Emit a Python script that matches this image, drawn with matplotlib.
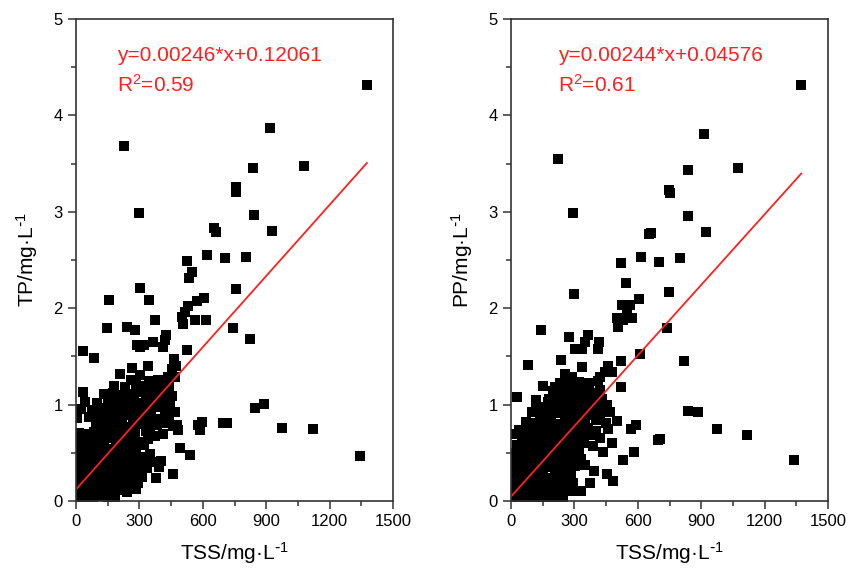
import matplotlib
matplotlib.use("Agg")
import matplotlib.pyplot as plt
from matplotlib.ticker import MultipleLocator

plt.rcParams['font.family'] = ['Liberation Sans', 'DejaVu Sans']
plt.rcParams['mathtext.default'] = 'regular'

# ---- left panel: TSS vs TP (sparse points) ----
tp_sparse = [
    (1376, 4.32), (918, 3.87), (229, 3.68), (839, 3.45), (1081, 3.47), (756, 3.26),
    (757, 3.21), (298, 2.99), (843, 2.97), (929, 2.80), (653, 2.83), (661, 2.79),
    (524, 2.49), (618, 2.55), (705, 2.52), (805, 2.53), (550, 2.38), (535, 2.31),
    (303, 2.21), (756, 2.20), (158, 2.08), (347, 2.09), (607, 2.11), (571, 2.07),
    (531, 2.02), (516, 1.96), (500, 1.91), (508, 1.84), (563, 1.88), (614, 1.88),
    (374, 1.88), (145, 1.79), (240, 1.81), (279, 1.77), (742, 1.79), (824, 1.68),
    (425, 1.72), (421, 1.67), (413, 1.60), (363, 1.65), (287, 1.62), (303, 1.60),
    (320, 1.62), (527, 1.57), (35, 1.56), (85, 1.48), (464, 1.47), (473, 1.40),
    (342, 1.40), (264, 1.38), (208, 1.32), (304, 1.31), (437, 1.29), (407, 1.26),
    (454, 1.37), (470, 1.29), (35, 1.13), (155, 1.07), (469, 0.92), (477, 0.79),
    (484, 0.74), (579, 0.79), (595, 0.82), (587, 0.74), (697, 0.81), (713, 0.81),
    (847, 0.96), (888, 1.01), (976, 0.76), (1123, 0.75), (1344, 0.47), (492, 0.55),
    (538, 0.48), (394, 0.35), (379, 0.24), (458, 0.28), (350, 0.68), (374, 0.67),
]
# dense cluster near the origin
tp_dense = [
    (5, 0.02), (40, 0.04), (78, 0.03), (112, 0.05), (150, 0.02), (186, 0.04),
    (12, 0.10), (46, 0.11), (82, 0.09), (120, 0.12), (160, 0.10), (202, 0.11), (242, 0.09), (286, 0.12),
    (2, 0.18), (30, 0.17), (66, 0.19), (100, 0.18), (140, 0.16), (176, 0.19), (215, 0.18), (252, 0.17), (292, 0.19),
    (16, 0.26), (52, 0.25), (90, 0.27), (126, 0.25), (166, 0.26), (206, 0.27), (240, 0.25), (280, 0.26), (312, 0.25),
    (6, 0.33), (40, 0.34), (76, 0.32), (112, 0.33), (150, 0.35), (190, 0.32), (230, 0.34), (266, 0.33), (302, 0.31), (336, 0.34),
    (20, 0.41), (56, 0.40), (94, 0.42), (132, 0.41), (170, 0.39), (210, 0.42), (250, 0.40), (290, 0.41), (330, 0.43), (366, 0.40), (402, 0.42),
    (2, 0.48), (36, 0.49), (72, 0.47), (114, 0.48), (150, 0.50), (190, 0.47), (230, 0.49), (270, 0.48), (310, 0.46), (348, 0.49),
    (16, 0.56), (54, 0.55), (92, 0.57), (130, 0.56), (170, 0.54), (210, 0.57), (246, 0.55), (286, 0.56), (322, 0.58),
    (2, 0.63), (40, 0.64), (76, 0.62), (116, 0.63), (152, 0.65), (190, 0.62), (226, 0.64), (266, 0.63), (302, 0.61), (340, 0.64),
    (12, 0.71), (50, 0.70), (86, 0.72), (126, 0.71), (160, 0.69), (200, 0.72), (240, 0.70), (280, 0.71), (330, 0.73), (410, 0.70),
    (96, 0.79), (136, 0.78), (176, 0.80), (216, 0.79), (256, 0.77), (296, 0.80), (340, 0.78), (382, 0.79), (420, 0.81), (458, 0.78),
    (6, 0.86), (60, 0.87), (110, 0.88), (150, 0.86), (190, 0.87), (230, 0.89), (270, 0.86), (310, 0.88), (356, 0.87), (396, 0.85), (440, 0.88),
    (22, 0.95), (76, 0.94), (124, 0.96), (166, 0.95), (206, 0.93), (246, 0.96), (290, 0.94), (330, 0.95), (372, 0.97), (420, 0.94),
    (44, 1.03), (100, 1.02), (150, 1.04), (196, 1.03), (236, 1.01), (276, 1.04), (316, 1.02), (360, 1.03), (400, 1.05), (444, 1.02),
    (132, 1.11), (176, 1.12), (214, 1.10), (252, 1.11), (292, 1.13), (332, 1.10), (372, 1.12), (412, 1.11), (452, 1.09),
    (180, 1.19), (232, 1.18), (282, 1.20), (322, 1.19), (362, 1.17), (402, 1.20), (440, 1.19),
    (262, 1.25), (346, 1.24), (390, 1.26), (430, 1.23),
]

# ---- right panel: TSS vs PP ----
pp_sparse = [
    (1373, 4.32), (915, 3.81), (224, 3.55), (836, 3.43), (1076, 3.45), (748, 3.23),
    (753, 3.20), (295, 2.99), (836, 2.96), (925, 2.79), (653, 2.77), (661, 2.78),
    (519, 2.47), (614, 2.53), (700, 2.48), (800, 2.52), (544, 2.26), (300, 2.15),
    (749, 2.17), (606, 2.10), (527, 2.03), (563, 2.03), (548, 1.98), (500, 1.90),
    (532, 1.88), (571, 1.90), (505, 1.81), (737, 1.79), (140, 1.77), (275, 1.70),
    (366, 1.72), (350, 1.65), (303, 1.58), (335, 1.58), (418, 1.65), (413, 1.58),
    (611, 1.52), (820, 1.45), (520, 1.45), (79, 1.41), (235, 1.46), (335, 1.39),
    (461, 1.40), (445, 1.34), (421, 1.29), (477, 1.34), (256, 1.32), (287, 1.29),
    (520, 1.18), (153, 1.19), (208, 1.18), (216, 1.10), (30, 1.08), (177, 1.03),
    (101, 0.92), (839, 0.93), (884, 0.92), (976, 0.75), (1118, 0.68), (1341, 0.43),
    (568, 0.75), (592, 0.79), (697, 0.63), (705, 0.64), (584, 0.51), (532, 0.43),
    (477, 0.60), (453, 0.28), (484, 0.21), (331, 0.10), (374, 0.19), (394, 0.31),
    (240, 0.05), (5, 0.70), (350, 0.37), (437, 0.51),
]
pp_dense = [
    (2, 0.02), (36, 0.03), (70, 0.01), (106, 0.04), (140, 0.02), (176, 0.03), (212, 0.01), (246, 0.03),
    (16, 0.10), (50, 0.11), (86, 0.09), (126, 0.10), (160, 0.12), (200, 0.09), (240, 0.11), (280, 0.10), (320, 0.10),
    (2, 0.18), (36, 0.17), (70, 0.19), (110, 0.18), (146, 0.16), (186, 0.19), (222, 0.17), (260, 0.18), (292, 0.19),
    (20, 0.26), (56, 0.25), (90, 0.27), (130, 0.26), (166, 0.24), (206, 0.27), (246, 0.25), (282, 0.26),
    (6, 0.34), (40, 0.33), (76, 0.35), (116, 0.34), (150, 0.32), (190, 0.35), (226, 0.33), (266, 0.34), (302, 0.36),
    (26, 0.42), (60, 0.41), (100, 0.43), (136, 0.42), (176, 0.40), (216, 0.43), (250, 0.41), (290, 0.42), (330, 0.44),
    (10, 0.50), (46, 0.49), (86, 0.51), (120, 0.50), (160, 0.48), (200, 0.51), (240, 0.49), (280, 0.50), (320, 0.52),
    (30, 0.58), (66, 0.57), (106, 0.59), (140, 0.58), (180, 0.56), (220, 0.59), (260, 0.57), (300, 0.58), (346, 0.60), (390, 0.57),
    (50, 0.66), (90, 0.65), (126, 0.67), (166, 0.66), (206, 0.64), (246, 0.67), (286, 0.65), (330, 0.66), (372, 0.68), (420, 0.65),
    (40, 0.74), (80, 0.73), (116, 0.75), (156, 0.74), (196, 0.72), (236, 0.75), (276, 0.73), (320, 0.74), (362, 0.76), (400, 0.73), (460, 0.75),
    (72, 0.82), (110, 0.81), (150, 0.83), (190, 0.82), (230, 0.80), (270, 0.83), (310, 0.81), (352, 0.82), (400, 0.84), (450, 0.81), (500, 0.83),
    (136, 0.90), (176, 0.89), (216, 0.91), (256, 0.90), (296, 0.88), (340, 0.91), (380, 0.89), (420, 0.90), (470, 0.92),
    (120, 0.98), (162, 0.97), (200, 0.99), (240, 0.98), (280, 0.96), (322, 0.99), (366, 0.97), (410, 0.98), (452, 1.00),
    (116, 1.05), (180, 1.06), (220, 1.07), (260, 1.05), (300, 1.06), (346, 1.04), (390, 1.07), (430, 1.06),
    (200, 1.14), (250, 1.13), (290, 1.15), (336, 1.14), (380, 1.12), (420, 1.15),
    (232, 1.22), (280, 1.21), (322, 1.23), (370, 1.22), (410, 1.24),
]

# fitted lines as printed on the chart
tp_fit = (0.00246, 0.12061, 0.59)
pp_fit = (0.00244, 0.04576, 0.61)

unit = 'mg·L$^{\\text{-}1}$'
panels = [
    (tp_sparse + tp_dense, tp_fit, 'TP/' + unit, 0.129),
    (pp_sparse + pp_dense, pp_fit, 'PP/' + unit, 0.147),
]

fig = plt.figure(figsize=(8.61, 5.75), dpi=100)
lefts = [0.0883, 0.5935]

for left, (pts, fit, ylab, tx) in zip(lefts, panels):
    ax = fig.add_axes([left, 0.1287, 0.3682, 0.8383])
    xs = [p[0] for p in pts]
    ys = [p[1] for p in pts]
    ax.plot(xs, ys, 's', color='black', ms=7.2, mew=0)
    slope, icpt, r2 = fit
    xmax = max(xs)
    ax.plot([0, xmax], [icpt, slope * xmax + icpt], color='#ff2020', lw=1.3)

    ax.set_xlim(0, 1500)
    ax.set_ylim(0, 5)
    ax.xaxis.set_major_locator(MultipleLocator(300))
    ax.xaxis.set_minor_locator(MultipleLocator(150))
    ax.yaxis.set_major_locator(MultipleLocator(1))
    ax.yaxis.set_minor_locator(MultipleLocator(0.5))
    ax.tick_params(which='major', direction='out', length=6, width=1.1,
                   labelsize=12, color='#333333')
    ax.tick_params(which='minor', direction='out', length=3.5, width=1.1,
                   color='#333333')
    for sp in ax.spines.values():
        sp.set_color('#333333')
        sp.set_linewidth(1.2)

    ax.set_xlabel('TSS/' + unit, fontsize=15, labelpad=8)
    ax.set_ylabel(ylab, fontsize=15, labelpad=10)

    ax.text(tx, 0.925, 'y=%.5f*x+%.5f' % (slope, icpt), transform=ax.transAxes,
            color='#ff2020', fontsize=15, va='center', ha='left')
    ax.text(tx, 0.863, 'R$^2$=%.2f' % r2, transform=ax.transAxes,
            color='#ff2020', fontsize=15, va='center', ha='left')

fig.savefig('out.png', dpi=100)
